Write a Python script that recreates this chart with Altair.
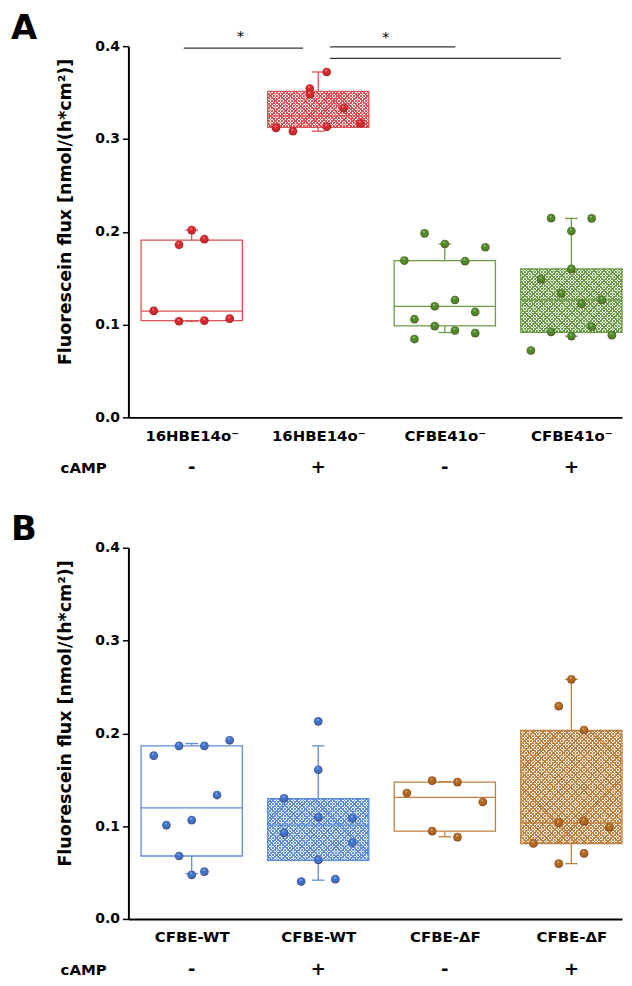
import altair as alt
import pandas as pd

FONT = "DejaVu Sans"
W, H = 496, 373
X_DOMAIN = [0.5, 4.4]
Y_DOMAIN = [0.0, 0.4]
BOX_HALF = 0.4
CAP_HALF = 0.05
Y_TITLE = "Fluorescein flux [nmol/(h*cm²)]"

# ---------------- Panel A data ----------------
A_names = ["16HBE14o⁻", "16HBE14o⁻", "CFBE41o⁻", "CFBE41o⁻"]
A_camp = ["-", "+", "-", "+"]
A_q1 = [0.1043, 0.3126, 0.0986, 0.0915]
A_med = [0.1144, 0.3248, 0.1197, 0.1265]
A_q3 = [0.1910, 0.3512, 0.1690, 0.1600]
A_lo = [0.1036, 0.3084, 0.0914, 0.0875]
A_hi = [0.2018, 0.3722, 0.1868, 0.2144]
A_hatch = [False, True, False, True]
A_vals = [
    [0.2018, 0.1860, 0.1920, 0.1147, 0.1036, 0.1043, 0.1064],
    [0.3722, 0.3544, 0.3483, 0.3333, 0.3119, 0.3084, 0.3133, 0.3169],
    [0.1983, 0.1868, 0.1833, 0.1690, 0.1683, 0.1265, 0.1197, 0.1136, 0.1058,
     0.0983, 0.0936, 0.0908, 0.0844],
    [0.2147, 0.2144, 0.2008, 0.1600, 0.1490, 0.1336, 0.1268, 0.1225, 0.0979,
     0.0922, 0.0876, 0.0886, 0.0721],
]
A_jit = [
    [0, -0.1, 0.1, -0.3, -0.1, 0.1, 0.3],
    [0.067, -0.067, -0.067, 0.2, -0.334, -0.2, 0.067, 0.334],
    [-0.16, 0, 0.32, -0.32, 0.16, 0.08, -0.08, 0.24, -0.24, -0.08, 0.08, 0.24, -0.24],
    [-0.16, 0.16, 0, 0, -0.24, -0.08, 0.24, 0.08, 0.16, -0.16, 0, 0.32, -0.32],
]
A_line_col = ["#e05257", "#e05257", "#6a9c45", "#6a9c45"]
A_pt_col = ["#d7282f", "#d7282f", "#4f8a2a", "#4f8a2a"]
# significance bars (x from, x to, y) and stars
A_sig_x1 = [0.937, 2.093, 2.093]
A_sig_x2 = [1.880, 3.083, 3.917]
A_sig_y = [0.398, 0.3992, 0.3868]
A_star_x = [1.385, 2.533]
A_star_y = [0.411, 0.410]

# ---------------- Panel B data ----------------
B_names = ["CFBE-WT", "CFBE-WT", "CFBE-ΔF", "CFBE-ΔF"]
B_camp = ["-", "+", "-", "+"]
B_q1 = [0.0678, 0.0632, 0.0946, 0.0811]
B_med = [0.1196, 0.1011, 0.1310, 0.1036]
B_q3 = [0.1865, 0.1297, 0.1475, 0.2032]
B_lo = [0.0489, 0.0418, 0.0886, 0.0596]
B_hi = [0.1890, 0.1865, 0.1480, 0.2582]
B_hatch = [False, True, False, True]
B_vals = [
    [0.1760, 0.1865, 0.1865, 0.1925, 0.1335, 0.1064, 0.1011, 0.0678, 0.0475, 0.0510],
    [0.2129, 0.1608, 0.1300, 0.1096, 0.1082, 0.0928, 0.0821, 0.0636, 0.0403, 0.0429],
    [0.1357, 0.1490, 0.1475, 0.1260, 0.0946, 0.0882],
    [0.2582, 0.2293, 0.2036, 0.1036, 0.1054, 0.0990, 0.0814, 0.0707, 0.0596],
]
B_jit = [
    [-0.3, -0.1, 0.1, 0.3, 0.2, 0, -0.2, -0.1, 0, 0.1],
    [0, 0, -0.27, 0, 0.27, -0.27, 0.27, 0, -0.135, 0.135],
    [-0.3, -0.1, 0.1, 0.3, -0.1, 0.1],
    [0, -0.1, 0.1, -0.1, 0.1, 0.3, -0.3, 0.1, -0.1],
]
B_line_col = ["#5d8ddb", "#5d8ddb", "#c2803f", "#c2803f"]
B_pt_col = ["#3d73cc", "#3d73cc", "#b0671f", "#b0671f"]


def hatch_gradient(w, h, color, direction, period=3.4, frac=0.42):
    k = (w + h) * w / (w * w + h * h)
    n = max(1, round((w + h) / period))
    clear = "rgba(255,255,255,0)"
    stops = []
    for i in range(n):
        a, b, c = i / n, (i + frac) / n, (i + 1) / n
        stops += [alt.GradientStop(offset=a, color=color),
                  alt.GradientStop(offset=b, color=color),
                  alt.GradientStop(offset=b, color=clear),
                  alt.GradientStop(offset=c, color=clear)]
    if direction > 0:
        return alt.LinearGradient(gradient="linear", stops=stops,
                                  x1=0, y1=0, x2=k, y2=k * h / w)
    return alt.LinearGradient(gradient="linear", stops=stops,
                              x1=0, y1=1, x2=k, y2=1 - k * h / w)


def sphere(color):
    return alt.RadialGradient(
        gradient="radial", x1=0.42, y1=0.3, r1=0, x2=0.5, y2=0.5, r2=0.55,
        stops=[alt.GradientStop(offset=0, color="#ffffff"),
               alt.GradientStop(offset=0.22, color=color),
               alt.GradientStop(offset=0.75, color=color),
               alt.GradientStop(offset=1, color="#5a1a10")])


def make_panel(letter, names, camp, q1, med, q3, lo, hi, hatch, vals, jit,
               line_col, pt_col, sig=None):
    label_expr = "[" + ",".join(f"'{n}'" for n in names) + "][datum.value - 1]"
    xscale = alt.Scale(domain=X_DOMAIN, nice=False, zero=False)
    yscale = alt.Scale(domain=Y_DOMAIN, nice=False, zero=True)
    xaxis = alt.Axis(values=[1, 2, 3, 4], labelExpr=label_expr, ticks=False, grid=False,
                     domainColor="black", domainWidth=2, labelFont=FONT, labelFontSize=15,
                     labelFontWeight="bold", labelColor="black", labelPadding=11,
                     labelAngle=0, title=None)
    yaxis = alt.Axis(values=[0, 0.1, 0.2, 0.3, 0.4], format=".1f", grid=False,
                     domainColor="black", domainWidth=2, tickColor="black", tickWidth=1.5,
                     tickSize=6, labelFont=FONT, labelFontSize=14, labelFontWeight="bold",
                     labelColor="black", labelPadding=3, title=Y_TITLE, titleFont=FONT,
                     titleFontSize=17.5, titleFontWeight="bold", titleColor="black",
                     titleX=-63, titleY=166, titleBaseline="middle")

    def X(f):
        return alt.X(f"{f}:Q", scale=xscale, axis=xaxis)

    def Y(f):
        return alt.Y(f"{f}:Q", scale=yscale, axis=yaxis)

    boxes = pd.DataFrame({"pos": [1, 2, 3, 4], "q1": q1, "med": med, "q3": q3,
                          "lo": lo, "hi": hi, "col": line_col})
    calc = dict(xl=f"datum.pos - {BOX_HALF}", xr=f"datum.pos + {BOX_HALF}",
                cl=f"datum.pos - {CAP_HALF}", cr=f"datum.pos + {CAP_HALF}")
    base = alt.Chart(boxes).transform_calculate(**calc)
    col = alt.Color("col:N", scale=None, legend=None)

    layers = [base.mark_rect(fill="white").encode(x=X("xl"), x2="xr:Q", y=Y("q1"), y2="q3:Q")]

    bw = 2 * BOX_HALF * W / (X_DOMAIN[1] - X_DOMAIN[0])
    for i in range(4):
        if not hatch[i]:
            continue
        bh = (q3[i] - q1[i]) * H / (Y_DOMAIN[1] - Y_DOMAIN[0])
        one = alt.Chart(boxes.iloc[[i]]).transform_calculate(**calc)
        for d in (1, -1):
            layers.append(one.mark_rect(fill=hatch_gradient(bw, bh, line_col[i], d))
                          .encode(x=X("xl"), x2="xr:Q", y=Y("q1"), y2="q3:Q"))

    sw = 1.3
    layers += [
        base.mark_rect(filled=False, strokeWidth=sw).encode(
            x=X("xl"), x2="xr:Q", y=Y("q1"), y2="q3:Q", color=col),
        base.mark_rule(strokeWidth=sw).encode(x=X("xl"), x2="xr:Q", y=Y("med"), color=col),
        base.mark_rule(strokeWidth=sw).encode(x=X("pos"), y=Y("q3"), y2="hi:Q", color=col),
        base.mark_rule(strokeWidth=sw).encode(x=X("pos"), y=Y("lo"), y2="q1:Q", color=col),
        base.mark_rule(strokeWidth=sw).encode(x=X("cl"), x2="cr:Q", y=Y("hi"), color=col),
        base.mark_rule(strokeWidth=sw).encode(x=X("cl"), x2="cr:Q", y=Y("lo"), color=col),
    ]

    rows = []
    for g in range(4):
        for v, j in zip(vals[g], jit[g]):
            rows.append({"pos": g + 1, "val": v, "jit": j, "pc": pt_col[g]})
    pts = pd.DataFrame(rows)
    for c in dict.fromkeys(pt_col):
        layers.append(
            alt.Chart(pts[pts.pc == c]).transform_calculate(px="datum.pos + datum.jit")
            .mark_circle(size=76, opacity=1, fill=sphere(c))
            .encode(x=X("px"), y=Y("val")))

    if sig is not None:
        sx1, sx2, sy, stx, sty = sig
        sdf = pd.DataFrame({"x1": sx1, "x2": sx2, "y": sy})
        layers.append(alt.Chart(sdf).mark_rule(color="#333333", strokeWidth=1.3)
                      .encode(x=X("x1"), x2="x2:Q", y=Y("y")))
        stdf = pd.DataFrame({"x": stx, "y": sty, "t": ["*"] * len(stx)})
        layers.append(alt.Chart(stdf).mark_text(font=FONT, fontSize=15, color="black",
                                                baseline="middle")
                      .encode(x=X("x"), y=Y("y"), text="t:N"))

    cdf = pd.DataFrame({"pos": [1, 2, 3, 4], "sign": camp})
    layers.append(alt.Chart(cdf).mark_text(font=FONT, fontSize=18, fontWeight="bold",
                                           color="black", baseline="middle")
                  .encode(x=X("pos"), y=alt.value(424), text="sign:N"))
    layers.append(alt.Chart(pd.DataFrame({"t": ["cAMP"]}))
                  .mark_text(font=FONT, fontSize=15, fontWeight="bold", color="black",
                             baseline="middle", align="center")
                  .encode(x=alt.value(-45), y=alt.value(424), text="t:N"))
    layers.append(alt.Chart(pd.DataFrame({"t": [letter]}))
                  .mark_text(font=FONT, fontSize=34, fontWeight="bold", color="black",
                             baseline="top", align="left")
                  .encode(x=alt.value(-118), y=alt.value(-34.7), text="t:N"))

    return alt.layer(*layers).properties(width=W, height=H)


panelA = make_panel("A", A_names, A_camp, A_q1, A_med, A_q3, A_lo, A_hi, A_hatch,
                    A_vals, A_jit, A_line_col, A_pt_col,
                    sig=(A_sig_x1, A_sig_x2, A_sig_y, A_star_x, A_star_y))
panelB = make_panel("B", B_names, B_camp, B_q1, B_med, B_q3, B_lo, B_hi, B_hatch,
                    B_vals, B_jit, B_line_col, B_pt_col)

chart = (alt.vconcat(panelA, panelB, spacing=34)
         .properties(padding={"left": 2, "top": 0, "right": 0, "bottom": 0})
         .configure_view(stroke="transparent"))

chart.save("out.html", embed_options={"renderer": "svg", "actions": False})
